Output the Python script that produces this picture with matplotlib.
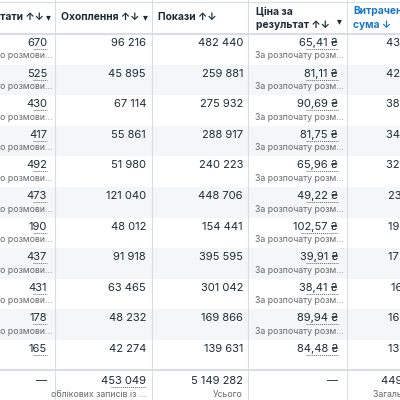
import matplotlib
matplotlib.use("Agg")
import matplotlib.pyplot as plt

plt.rcParams['font.family'] = ['Inter', 'DejaVu Sans']

results = ["670", "525", "430", "417", "492", "473", "190", "437", "431", "178", "165"]
reach = ["96 216", "45 895", "67 114", "55 861", "51 980", "121 040", "48 012", "91 918", "63 465", "48 232", "42 274"]
impressions = ["482 440", "259 881", "275 932", "288 917", "240 223", "448 706", "154 441", "395 595", "301 042", "169 866", "139 631"]
cost = ["65,41 ₴", "81,11 ₴", "90,69 ₴", "81,75 ₴", "65,96 ₴", "49,22 ₴", "102,57 ₴", "39,91 ₴", "38,41 ₴", "89,94 ₴", "84,48 ₴"]
spent = ["43 824,72 ₴", "42 582,75 ₴", "38 996,70 ₴", "34 089,75 ₴", "32 452,32 ₴", "23 281,06 ₴",
         "19 488,30 ₴", "17 440,67 ₴", "16 554,71 ₴", "16 009,32 ₴", "13 939,20 ₴"]
has_sub = [True] * 10 + [False]
total_reach = "453 049"
total_impr = "5 149 282"
total_spent = "449 159,50 ₴"

dark = "#1c2b33"
gray = "#65676b"
blue = "#1877c9"
line_c = "#dadde1"

fig = plt.figure(figsize=(4, 4), dpi=100)
ax = fig.add_axes([0, 0, 1, 1])
ax.set_xlim(0, 400)
ax.set_ylim(400, 0)
ax.axis("off")

cols = [0, 55, 152, 248, 347, 400]
top = 34
pitch = 30.6

# header
ax.axhline(2, color=line_c, lw=0.8)
ax.axhline(top, color=line_c, lw=1.5)
hdr_y = 17
hfs = 7.4
ax.text(-6, hdr_y, "ьтати ↑↓", fontsize=hfs, fontweight="bold", color=dark, va="center")
ax.text(61, hdr_y, "Охоплення ↑↓", fontsize=hfs, fontweight="bold", color=dark, va="center")
ax.text(158, hdr_y, "Покази ↑↓", fontsize=hfs, fontweight="bold", color=dark, va="center")
ax.text(256, 11, "Ціна за", fontsize=hfs, fontweight="bold", color=dark, va="center")
ax.text(256, 25, "результат ↑↓", fontsize=hfs, fontweight="bold", color=dark, va="center")
ax.text(353, 11, "Витрачена", fontsize=hfs, fontweight="bold", color=blue, va="center")
ax.text(353, 25, "сума ↓", fontsize=hfs, fontweight="bold", color=blue, va="center")
for x, y in [(48, hdr_y), (145, hdr_y), (339, 21)]:
    ax.text(x, y, "▾", fontsize=7, color=dark, va="center", ha="center")

for i in range(len(results)):
    y0 = top + i * pitch
    if i % 2 == 1:
        ax.fill_between([0, 400], y0, y0 + pitch, color="#f5f6f7", lw=0, zorder=0)
    vy = y0 + 9
    ax.text(47, vy, results[i], fontsize=8, color=dark, ha="right", va="center")
    ax.plot([47 - 4.8 * len(results[i]), 47], [vy + 6, vy + 6], ls=(0, (1, 1)), color=gray, lw=0.7)
    ax.text(146, vy, reach[i], fontsize=8, color=dark, ha="right", va="center")
    ax.text(243, vy, impressions[i], fontsize=8, color=dark, ha="right", va="center")
    ax.text(338, vy, cost[i], fontsize=8, color=dark, ha="right", va="center")
    ax.plot([338 - 4.6 * len(cost[i]), 338], [vy + 6, vy + 6], ls=(0, (1, 1)), color=gray, lw=0.7)
    ax.text(450, vy, spent[i], fontsize=8, color=dark, ha="right", va="center", clip_on=False)
    if has_sub[i]:
        ax.text(0, y0 + 22, "о розмови...", fontsize=6.3, color=gray, va="center")
        ax.text(255, y0 + 22, "За розпочату розм...", fontsize=6.3, color=gray, va="center")

# totals
ty = top + len(results) * pitch - 1
ax.axhline(ty, color=line_c, lw=1.5)
ax.text(47, ty + 11, "—", fontsize=8, color=dark, ha="right", va="center")
ax.text(146, ty + 11, total_reach, fontsize=8, color=dark, ha="right", va="center")
ax.plot([111, 146], [ty + 17, ty + 17], ls=(0, (1, 1)), color=gray, lw=0.7)
ax.text(146, ty + 25, "облікових записів із ...", fontsize=6.3, color=gray, ha="right", va="center")
ax.text(243, ty + 11, total_impr, fontsize=8, color=dark, ha="right", va="center")
ax.text(243, ty + 25, "Усього", fontsize=6.3, color=gray, ha="right", va="center")
ax.text(338, ty + 11, "—", fontsize=8, color=dark, ha="right", va="center")
ax.text(381, ty + 11, total_spent, fontsize=8, color=dark, ha="left", va="center")
ax.text(373, ty + 25, "Загальна сума", fontsize=6.3, color=gray, ha="left", va="center")

for x in cols[1:-1]:
    ax.axvline(x, color=line_c, lw=0.8)

fig.savefig("out.png", dpi=100, facecolor="white")
